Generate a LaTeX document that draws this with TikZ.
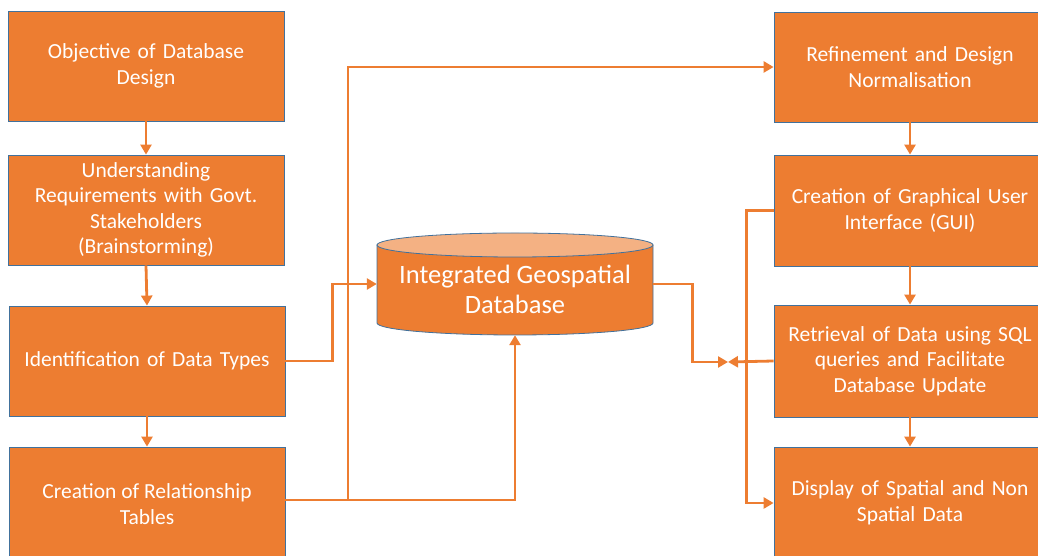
\documentclass[tikz,border=0pt]{standalone}
\usepackage{fontspec}
\setmainfont{Carlito}
\usetikzlibrary{arrows.meta}
\definecolor{boxorange}{HTML}{ED7D31}
\definecolor{boxedge}{HTML}{41719C}
\definecolor{toporange}{HTML}{F4B183}
\tikzset{
  boxfont/.style={font=\fontsize{21.5pt}{25.5pt}\selectfont},
  stepbox/.style={rectangle, fill=boxorange, draw=boxedge, line width=0.8pt,
    minimum width=276pt, minimum height=110pt, text width=268pt, align=center,
    text=white, boxfont, inner sep=0pt},
  arr/.style={draw=boxorange, line width=2.8pt, -{Triangle[length=10pt,width=11pt]}},
  dbtext/.style={text=white, align=center, font=\fontsize{26.5pt}{30pt}\selectfont, inner sep=0pt}
}
\begin{document}
\begin{tikzpicture}[x=1pt,y=1pt]
\useasboundingbox (0,0) rectangle (1038,556);
\begin{scope}
\clip (0,0) rectangle (1038,556);
% left column
\node[stepbox] (L1) at (146,490) {Objective of Database\\Design};
\node[stepbox] (L2) at (146,346) {Understanding\\Requirements with Govt.\\Stakeholders\\(Brainstorming)};
\node[stepbox] (L3) at (147,195) {Identification of Data Types};
\node[stepbox, minimum height=164pt] (L4) at (147,27) {};
\node[text=white, align=center, boxfont, inner sep=0pt] (L4t) at (147,52) {Creation of Relationship\\Tables};
% right column
\node[stepbox, minimum width=272pt] (R1) at (910,489) {Refinement and Design\\Normalisation};
\node[stepbox, minimum width=272pt, minimum height=111pt] (R2) at (910,345.5) {Creation of Graphical User\\Interface (GUI)};
\node[stepbox, minimum width=272pt, minimum height=112pt] (R3) at (910,195) {Retrieval of Data using SQL\\queries and Facilitate\\Database Update};
\node[stepbox, minimum width=272pt, minimum height=112pt] (R4) at (910,53) {Display of Spatial and Non\\Spatial Data};
% database cylinder
\node[minimum width=276pt, minimum height=102pt, inner sep=0pt] (db) at (515,272) {};
\filldraw[fill=boxorange, draw=boxedge, line width=0.8pt]
  (377,311) -- (377,233) arc[start angle=180, end angle=360, x radius=138, y radius=12]
  -- (653,311) -- cycle;
\filldraw[fill=toporange, draw=boxedge, line width=0.8pt] (515,311) ellipse [x radius=138, y radius=12];
\node[dbtext] (dbt) at (515,267) {Integrated Geospatial\\Database};
% connectors left column
\draw[arr] (L1.south) -- (L2.north);
\draw[arr] (L2.south) -- (L3.north);
\draw[arr] (L3.south) -- (L4.north);
% connectors right column
\draw[arr] (R1.south) -- (R2.north);
\draw[arr] (R2.south) -- (R3.north);
\draw[arr] (R3.south) -- (R4.north);
% to database
\draw[arr] (L3.east) -- ++(47,0) |- (db.west);
\coordinate (br) at (348,56);
\draw[arr] (L4.east |- br) -| (db.south);
\draw[arr] (br) |- (R1.west);
% from database
\coordinate (meet) at (728,194);
\draw[arr] (db.east) -- ++(39,0) |- (meet);
\draw[arr] (R3.west) -- (meet);
\draw[arr] (R2.west) -- ++(-27,0) |- (R4.west);
\end{scope}
\end{tikzpicture}
\end{document}
